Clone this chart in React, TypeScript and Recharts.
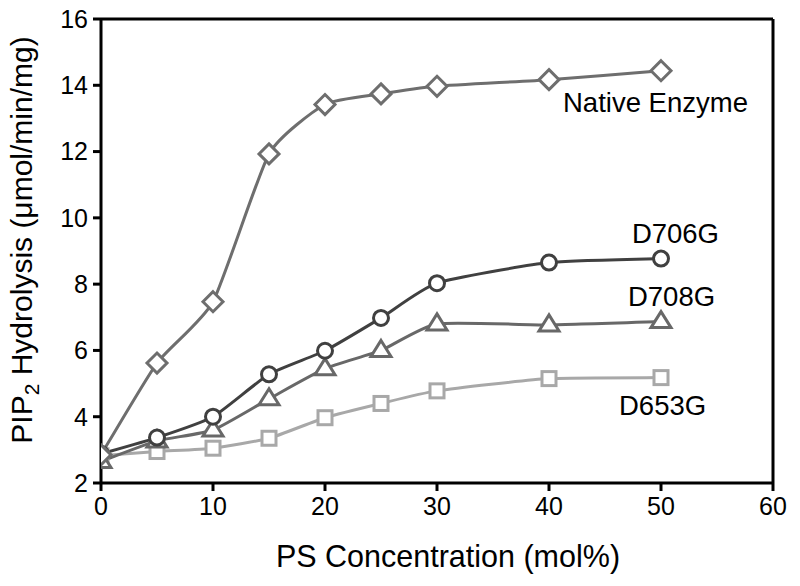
import React from 'react';
import { LineChart, Line, XAxis, YAxis, ReferenceLine, ReferenceDot } from 'recharts';

const concentrations = [0, 5, 10, 15, 20, 25, 30, 40, 50];
const nativeEnzyme = [2.85, 5.62, 7.47, 11.93, 13.42, 13.74, 13.97, 14.17, 14.44];
const d706g = [2.88, 3.37, 4.0, 5.28, 5.99, 6.98, 8.03, 8.65, 8.77];
const d708g = [2.65, 3.27, 3.6, 4.54, 5.45, 6.0, 6.8, 6.77, 6.87];
const d653g = [2.82, 2.95, 3.05, 3.35, 3.97, 4.4, 4.78, 5.15, 5.18];

const xTicks = [0, 10, 20, 30, 40, 50, 60];
const yTicks = [2, 4, 6, 8, 10, 12, 14, 16];

const annotations = [
  { text: 'Native Enzyme', x: 41.25, y: 13.2 },
  { text: 'D706G', x: 47.4, y: 9.24 },
  { text: 'D708G', x: 47.05, y: 7.34 },
  { text: 'D653G', x: 46.25, y: 4.05 },
];

const data = concentrations.map((c, i) => ({
  x: c,
  native: nativeEnzyme[i],
  d706: d706g[i],
  d708: d708g[i],
  d653: d653g[i],
}));

const FONT = 'Liberation Sans, Arial, sans-serif';

// Smooth interpolating cardinal spline as a d3-style curve factory
class SmoothCurve {
  _context: any;
  _pts: number[][] = [];
  _line = 0;
  _k = 0.55;
  constructor(context: any) {
    this._context = context;
  }
  areaStart() {
    this._line = 0;
  }
  areaEnd() {
    this._line = NaN;
  }
  lineStart() {
    this._pts = [];
  }
  point(x: number, y: number) {
    this._pts.push([+x, +y]);
  }
  lineEnd() {
    const p = this._pts;
    const c = this._context;
    const k = this._k;
    if (!p.length) return;
    c.moveTo(p[0][0], p[0][1]);
    for (let i = 0; i < p.length - 1; i++) {
      const p0 = p[i - 1] || p[i];
      const p1 = p[i];
      const p2 = p[i + 1];
      const p3 = p[i + 2] || p[i + 1];
      const c1x = p1[0] + ((p2[0] - p0[0]) * k) / 6;
      const c1y = p1[1] + ((p2[1] - p0[1]) * k) / 6;
      const c2x = p2[0] - ((p3[0] - p1[0]) * k) / 6;
      const c2y = p2[1] - ((p3[1] - p1[1]) * k) / 6;
      c.bezierCurveTo(c1x, c1y, c2x, c2y, p2[0], p2[1]);
    }
  }
}
const smooth = (context: any) => new SmoothCurve(context);

const Diamond = (p: any) => {
  const { cx, cy } = p;
  if (cx == null || cy == null) return null;
  const r = 10;
  return (
    <path
      d={`M${cx},${cy - r}L${cx + r},${cy}L${cx},${cy + r}L${cx - r},${cy}Z`}
      fill="#fff"
      stroke="#6e6e6e"
      strokeWidth={3}
    />
  );
};

const Circle = (p: any) => {
  const { cx, cy } = p;
  if (cx == null || cy == null) return null;
  return <circle cx={cx} cy={cy} r={7.5} fill="#fff" stroke="#404040" strokeWidth={3} />;
};

const Triangle = (p: any) => {
  const { cx, cy } = p;
  if (cx == null || cy == null) return null;
  const w = 10;
  return (
    <path
      d={`M${cx},${cy - 10}L${cx + w},${cy + 6}L${cx - w},${cy + 6}Z`}
      fill="#fff"
      stroke="#686868"
      strokeWidth={3}
    />
  );
};

const Square = (p: any) => {
  const { cx, cy } = p;
  if (cx == null || cy == null) return null;
  const h = 7;
  return (
    <rect x={cx - h} y={cy - h} width={2 * h} height={2 * h} fill="#fff" stroke="#a8a8a8" strokeWidth={3} />
  );
};

const AnnotationText = (text: string) => (p: any) => (
  <text x={p.cx} y={p.cy} fontFamily={FONT} fontSize={27.5} fill="#000" textAnchor="start">
    {text}
  </text>
);

const XTitle = (p: any) => {
  const vb = p.viewBox || {};
  return (
    <text
      x={vb.x + vb.width / 2 + 11}
      y={567}
      fontFamily={FONT}
      fontSize={30.5}
      textAnchor="middle"
      fill="#000"
    >
      PS Concentration (mol%)
    </text>
  );
};

const YTitle = () => (
  <text
    x={0}
    y={0}
    transform={`translate(32, 240) rotate(-90)`}
    fontFamily={FONT}
    fontSize={30}
    textAnchor="middle"
    fill="#000"
  >
    PIP
    <tspan fontSize={21} dy={7}>2</tspan>
    <tspan dy={-7}> Hydrolysis (μmol/min/mg)</tspan>
  </text>
);

export default function App() {
  return (
    <div style={{ position: 'absolute', left: 0, top: 0, background: '#fff' }}>
      <LineChart
        width={800}
        height={586}
        data={data}
        margin={{ top: 19, right: 27, left: 41, bottom: 73 }}
      >
        <XAxis
          dataKey="x"
          type="number"
          domain={[0, 60]}
          ticks={xTicks}
          allowDataOverflow
          axisLine={{ stroke: '#000', strokeWidth: 3 }}
          tickLine={{ stroke: '#000', strokeWidth: 3 }}
          tickSize={8}
          tickMargin={6}
          height={30}
          tick={{ fill: '#000', fontSize: 25, fontFamily: FONT }}
          label={<XTitle />}
        />
        <YAxis
          type="number"
          domain={[2, 16]}
          ticks={yTicks}
          allowDataOverflow
          axisLine={{ stroke: '#000', strokeWidth: 3 }}
          tickLine={{ stroke: '#000', strokeWidth: 3 }}
          tickSize={8}
          tickMargin={5}
          width={60}
          tick={{ fill: '#000', fontSize: 25, fontFamily: FONT }}
          label={<YTitle />}
        />
        <ReferenceLine y={16} stroke="#000" strokeWidth={3} />
        <ReferenceLine x={60} stroke="#000" strokeWidth={3} />
        <Line
          type={smooth as any}
          dataKey="d653"
          stroke="#a8a8a8"
          strokeWidth={3}
          dot={<Square />}
          activeDot={false}
          isAnimationActive={false}
        />
        <Line
          type={smooth as any}
          dataKey="d708"
          stroke="#686868"
          strokeWidth={3}
          dot={<Triangle />}
          activeDot={false}
          isAnimationActive={false}
        />
        <Line
          type={smooth as any}
          dataKey="d706"
          stroke="#404040"
          strokeWidth={3}
          dot={<Circle />}
          activeDot={false}
          isAnimationActive={false}
        />
        <Line
          type={smooth as any}
          dataKey="native"
          stroke="#6e6e6e"
          strokeWidth={3}
          dot={<Diamond />}
          activeDot={false}
          isAnimationActive={false}
        />
        {annotations.map((a) => (
          <ReferenceDot key={a.text} x={a.x} y={a.y} r={0} shape={AnnotationText(a.text)} />
        ))}
      </LineChart>
    </div>
  );
}
